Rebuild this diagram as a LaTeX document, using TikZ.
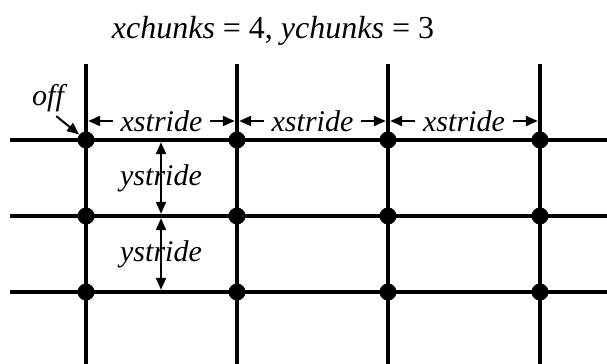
\documentclass[tikz,border=0pt]{standalone}
\usepackage{fontspec}
\setmainfont{Liberation Serif}
\usetikzlibrary{arrows.meta,calc}
\tikzset{
  gridline/.style={line width=2.2pt},
  dot/.style={circle, fill=black, inner sep=0pt, minimum size=8.5pt},
  dim/.style={{Triangle[length=6pt,width=5pt]}-{Triangle[length=6pt,width=5pt]}, line width=1pt},
  lbl/.style={font=\fontsize{15}{18}\selectfont\itshape, inner sep=0pt}
}
\begin{document}
\begin{tikzpicture}[x=0.5pt,y=-0.5pt]
  \useasboundingbox (0,0) rectangle (607,364);
  \node[font=\fontsize{16}{19}\selectfont] (title) at (273,31) {\textit{xchunks} = 4, \textit{ychunks} = 3};

  % grid
  \foreach \x [count=\i] in {86,237,388,540} {
    \coordinate (top\i) at (\x,64);
    \coordinate (bot\i) at (\x,364);
    \coordinate (xs\i) at (\x,121);
    \draw[gridline] (top\i) -- (bot\i);
  }
  \foreach \y [count=\j] in {140,216,292} {
    \coordinate (left\j) at (10,\y);
    \coordinate (right\j) at (607,\y);
    \coordinate (ys\j) at (161,\y);
    \draw[gridline] (left\j) -- (right\j);
  }
  \foreach \x [count=\i] in {86,237,388,540}
    \foreach \y [count=\j] in {140,216,292}
      \node[dot] (p\i\j) at (\x,\y) {};

  % strides
  \foreach \a/\b in {1/2,2/3,3/4}
    \draw[dim] ([xshift=1.1pt]xs\a) -- node[lbl, fill=white, inner xsep=4pt, inner ysep=1pt] {xstride} ([xshift=-1.1pt]xs\b);
  \foreach \a/\b in {1/2,2/3} {
    \draw[dim] ([yshift=-1.1pt]ys\a) -- ([yshift=1.1pt]ys\b);
    \node[lbl] at ($(ys\a)!0.5!(ys\b)$) {ystride};
  }

  % offset
  \node[lbl] (off) at (48,98) {off};
  \draw[-{Triangle[length=6pt,width=5pt]}, line width=1pt] ([xshift=-4pt,yshift=-2pt]off.south east) -- (p11);
\end{tikzpicture}
\end{document}
